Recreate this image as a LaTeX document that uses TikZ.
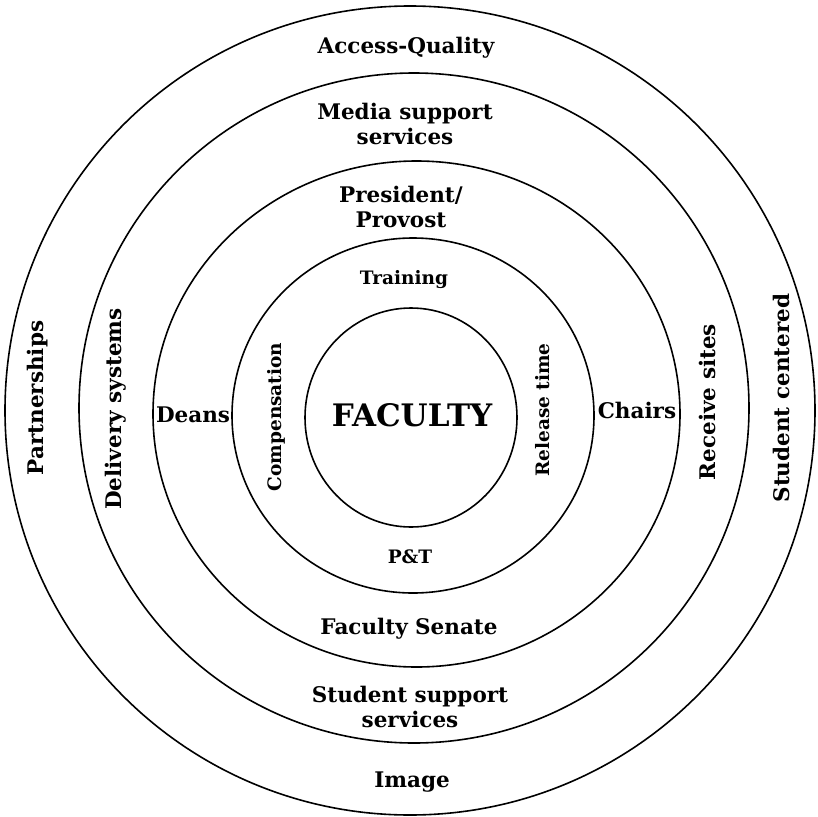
\documentclass[tikz,border=0pt]{standalone}
\usepackage{fontspec}
\setmainfont{DejaVu Serif}
\begin{document}
\begin{tikzpicture}[
  x=1pt,y=-1pt,
  ring/.style={line width=1.6pt},
  lbl/.style={font=\fontsize{21.5}{25}\selectfont\bfseries,align=center,inner sep=0pt},
  sml/.style={font=\fontsize{18.5}{20}\selectfont\bfseries,inner sep=0pt},
  vert/.style={rotate=90}
  ]
  \useasboundingbox (0,0) rectangle (817,817);
  % rings, outside in
  \draw[ring] (410,410.5) ellipse [x radius=405,y radius=404.5];
  \draw[ring] (414,408) ellipse [x radius=335,y radius=335];
  \draw[ring] (416.5,414) ellipse [x radius=263.5,y radius=253];
  \draw[ring] (413,415.5) ellipse [x radius=181,y radius=177.5];
  \draw[ring] (411,417.5) ellipse [x radius=106,y radius=109.5];
  % core
  \node (faculty)     [lbl,font=\fontsize{31}{33}\selectfont\bfseries] at (412,415) {FACULTY};
  % inner ring
  \node (training)    [sml]      at (404,280) {Training};
  \node (pt)          [sml]      at (410,557) {P\&T};
  \node (compensation)[sml,vert] at (276,417) {Compensation};
  \node (release)     [sml,vert] at (543,410) {Release time};
  % third ring
  \node (president)   [lbl]      at (401,207) {President/\\Provost};
  \node (senate)      [lbl]      at (409,629) {Faculty Senate};
  \node (deans)       [lbl]      at (193,415) {Deans};
  \node (chairs)      [lbl]      at (637,410) {Chairs};
  % second ring
  \node (media)       [lbl]      at (405,124) {Media support\\services};
  \node (studsupport) [lbl]      at (410,707) {Student support\\services};
  \node (delivery)    [lbl,vert] at (116,409) {Delivery systems};
  \node (receive)     [lbl,vert] at (707,402) {Receive sites};
  % outer ring
  \node (access)      [lbl]      at (406,48) {Access-Quality};
  \node (image)       [lbl]      at (412,782) {Image};
  \node (partner)     [lbl,vert] at (38,398) {Partnerships};
  \node (studcenter)  [lbl,vert] at (781,398) {Student centered};
\end{tikzpicture}
\end{document}
